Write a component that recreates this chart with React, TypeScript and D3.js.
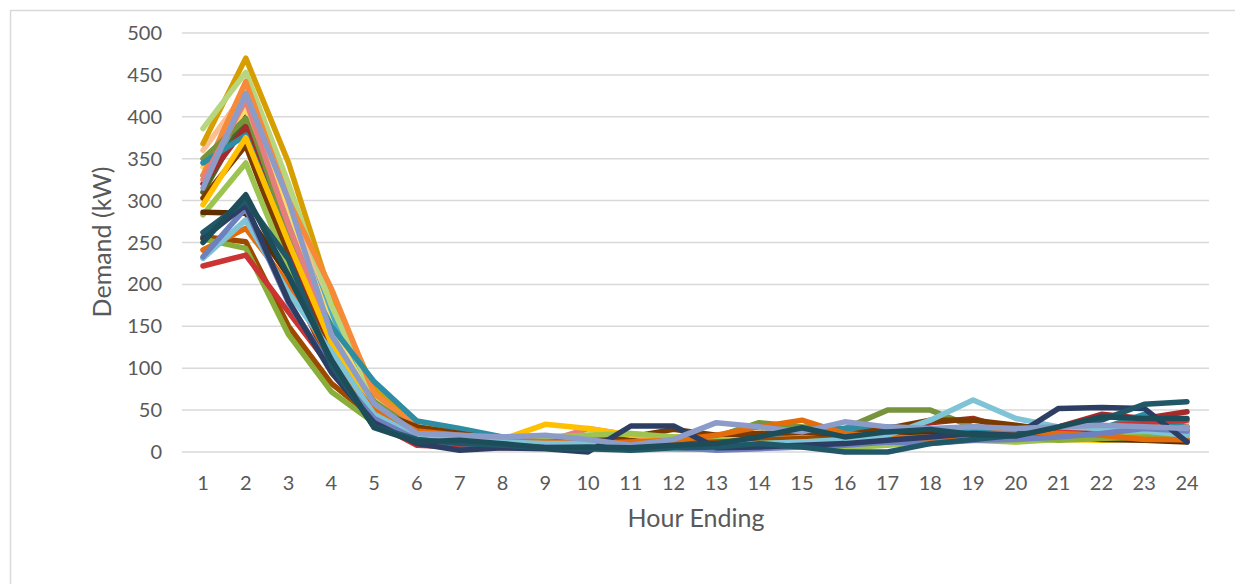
import React from "react";
import * as d3 from "d3";

const hours = d3.range(1, 25);
const yTicks = [0, 50, 100, 150, 200, 250, 300, 350, 400, 450, 500];

const seriesColors = [
  "#FAC090", "#4BACC6", "#4F6228", "#FFD966", "#D69E00", "#B8D67E", "#F68A38",
  "#77933C", "#A52A2A", "#2E8DA3", "#E57F7F", "#7B3A00", "#FFC000", "#9DC350",
  "#5C2E00", "#9C4A00", "#8AAE3A", "#CC3333", "#E46C0A", "#7EC4D6", "#6F80BE",
  "#2C3E64", "#215868", "#8C9CC9", "#1E4D5A",
];

const seriesValues: number[][] = [
  [360, 430, 310, 165, 65, 25, 18, 16, 14, 12, 10, 12, 14, 16, 18, 20, 18, 16, 14, 15, 18, 20, 22, 24],
  [330, 395, 280, 160, 70, 28, 20, 15, 12, 10, 8, 10, 12, 14, 16, 12, 10, 14, 16, 18, 22, 25, 28, 25],
  [310, 400, 250, 135, 45, 15, 12, 10, 8, 10, 12, 10, 8, 6, 10, 14, 18, 20, 22, 24, 20, 18, 22, 26],
  [340, 410, 290, 150, 55, 18, 15, 12, 10, 8, 6, 8, 10, 12, 10, 12, 14, 15, 18, 12, 18, 20, 22, 22],
  [368, 470, 345, 185, 75, 30, 22, 15, 12, 10, 10, 9, 12, 14, 18, 15, 16, 18, 20, 25, 22, 24, 23, 22],
  [386, 453, 320, 175, 65, 25, 18, 14, 18, 20, 22, 18, 20, 22, 24, 12, 15, 18, 20, 22, 25, 28, 30, 35],
  [330, 442, 300, 195, 70, 30, 18, 16, 14, 14, 10, 12, 20, 22, 18, 22, 25, 20, 22, 25, 28, 30, 30, 30],
  [350, 398, 260, 130, 60, 25, 18, 14, 10, 12, 10, 12, 18, 35, 30, 28, 50, 50, 30, 28, 20, 22, 25, 25],
  [320, 388, 240, 120, 50, 15, 10, 8, 8, 10, 8, 10, 5, 8, 10, 15, 20, 35, 40, 25, 30, 45, 40, 48],
  [345, 378, 250, 150, 84, 37, 28, 18, 16, 14, 12, 14, 16, 20, 24, 28, 30, 28, 25, 22, 25, 28, 45, 30],
  [325, 420, 270, 140, 40, 10, 8, 8, 12, 28, 20, 10, 8, 10, 12, 10, 14, 18, 16, 14, 18, 25, 22, 30],
  [303, 366, 230, 110, 50, 30, 22, 14, 14, 16, 18, 27, 20, 22, 24, 20, 28, 38, 38, 32, 25, 20, 18, 15],
  [295, 375, 250, 130, 55, 20, 15, 15, 33, 28, 20, 18, 15, 14, 12, 15, 18, 20, 15, 20, 15, 14, 16, 18],
  [283, 345, 220, 110, 45, 20, 16, 14, 18, 20, 22, 18, 15, 10, 8, 5, 8, 12, 14, 12, 15, 18, 22, 25],
  [286, 285, 210, 100, 40, 15, 12, 10, 8, 6, 5, 8, 10, 12, 15, 18, 20, 22, 20, 18, 20, 15, 14, 12],
  [257, 251, 150, 82, 40, 15, 10, 8, 8, 10, 12, 10, 12, 14, 16, 15, 12, 15, 18, 16, 20, 18, 16, 14],
  [254, 243, 140, 72, 35, 14, 10, 8, 6, 5, 4, 6, 8, 10, 12, 14, 16, 18, 15, 18, 14, 16, 18, 20],
  [222, 235, 167, 100, 35, 8, 6, 5, 5, 6, 5, 4, 4, 5, 8, 12, 15, 18, 20, 22, 25, 30, 35, 38],
  [241, 267, 200, 110, 50, 25, 20, 15, 12, 10, 12, 14, 20, 30, 38, 22, 18, 16, 20, 25, 22, 20, 15, 15],
  [231, 277, 190, 120, 45, 18, 14, 12, 10, 10, 2, 4, 8, 10, 12, 15, 20, 38, 62, 40, 30, 28, 25, 20],
  [233, 291, 178, 100, 40, 15, 10, 8, 6, 5, 4, 6, 2, 4, 6, 8, 12, 10, 14, 15, 18, 22, 28, 25],
  [255, 295, 180, 95, 35, 10, 2, 5, 4, 0, 31, 31, 5, 6, 8, 10, 14, 18, 22, 20, 52, 53, 52, 12],
  [262, 300, 230, 104, 30, 15, 10, 8, 5, 4, 2, 5, 6, 10, 6, 0, 0, 10, 15, 20, 30, 38, 57, 60],
  [315, 428, 300, 140, 58, 22, 20, 18, 20, 15, 8, 15, 35, 30, 24, 36, 30, 28, 30, 28, 30, 32, 30, 28],
  [250, 307, 210, 110, 29, 12, 14, 10, 5, 6, 5, 8, 10, 18, 29, 18, 24, 27, 21, 19, 30, 42, 40, 40],
];

const FONT = "Lato, 'Open Sans', sans-serif";
const TEXT = "#595959";
const GRID = "#d9d9d9";

export default function App() {
  const W = 1235;
  const H = 584;
  const x = d3.scalePoint<number>().domain(hours).range([203, 1187]);
  const y = d3.scaleLinear().domain([0, 500]).range([452, 33]);
  const gridLeft = 182;
  const gridRight = 1209;
  const line = d3
    .line<number>()
    .x((_, i) => x(hours[i]) as number)
    .y((d) => y(d));

  return (
    <svg
      width={W}
      height={H}
      style={{ position: "absolute", left: 0, top: 0, display: "block", background: "#fff" }}
    >
      <rect x={10.5} y={10.5} width={1240} height={600} fill="#fff" stroke={GRID} strokeWidth={1.5} />
      {yTicks.map((t) => (
        <g key={t}>
          <line x1={gridLeft} x2={gridRight} y1={y(t)} y2={y(t)} stroke={GRID} strokeWidth={1.5} />
          <text
            x={162}
            y={y(t)}
            dy="0.35em"
            textAnchor="end"
            fontFamily={FONT}
            fontSize={20}
            fill={TEXT}
          >
            {t}
          </text>
        </g>
      ))}
      {hours.map((h) => (
        <text
          key={h}
          x={x(h)}
          y={490}
          textAnchor="middle"
          fontFamily={FONT}
          fontSize={20}
          fill={TEXT}
        >
          {h}
        </text>
      ))}
      {seriesValues.map((vals, i) => (
        <path
          key={i}
          d={line(vals) || ""}
          fill="none"
          stroke={seriesColors[i]}
          strokeWidth={5.5}
          strokeLinecap="round"
          strokeLinejoin="round"
        />
      ))}
      <text
        x={696}
        y={527}
        textAnchor="middle"
        fontFamily={FONT}
        fontSize={25}
        fill={TEXT}
      >
        Hour Ending
      </text>
      <text
        transform={`translate(111,242) rotate(-90)`}
        textAnchor="middle"
        fontFamily={FONT}
        fontSize={25}
        fill={TEXT}
      >
        Demand (kW)
      </text>
    </svg>
  );
}
